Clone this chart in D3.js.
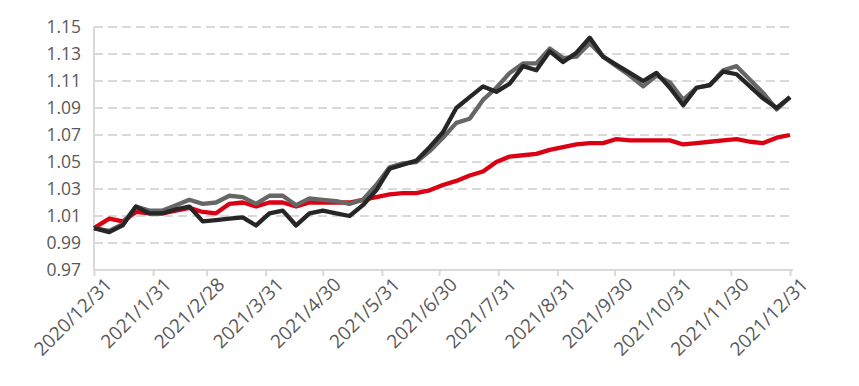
<!DOCTYPE html>
<html>
<head>
<meta charset="utf-8">
<script src="https://cdn.jsdelivr.net/npm/d3@7"></script>
<style>
  html, body { margin: 0; padding: 0; background: #fff; }
  svg { display: block; }
  text { font-family: "Open Sans", "Noto Sans", sans-serif; fill: #595959; }
</style>
</head>
<body>
<svg id="chart" width="859" height="386"></svg>
<script>
const dates = ["2020-12-31","2021-01-08","2021-01-15","2021-01-22","2021-01-29","2021-02-05","2021-02-12","2021-02-19","2021-02-26",
  "2021-03-05","2021-03-12","2021-03-19","2021-03-26","2021-04-02","2021-04-09","2021-04-16","2021-04-23","2021-04-30",
  "2021-05-07","2021-05-14","2021-05-21","2021-05-28","2021-06-04","2021-06-11","2021-06-18","2021-06-25",
  "2021-07-02","2021-07-09","2021-07-16","2021-07-23","2021-07-30","2021-08-06","2021-08-13","2021-08-20","2021-08-27",
  "2021-09-03","2021-09-10","2021-09-17","2021-09-24","2021-10-01","2021-10-08","2021-10-15","2021-10-22","2021-10-29",
  "2021-11-05","2021-11-12","2021-11-19","2021-11-26","2021-12-03","2021-12-10","2021-12-17","2021-12-24","2021-12-31"];

const redValues = [1.001,1.008,1.006,1.013,1.012,1.012,1.014,1.016,1.013,
  1.012,1.019,1.020,1.017,1.020,1.020,1.017,1.020,1.020,
  1.020,1.020,1.022,1.024,1.026,1.027,1.027,1.029,
  1.033,1.036,1.040,1.043,1.050,1.054,1.055,1.056,1.059,
  1.061,1.063,1.064,1.064,1.067,1.066,1.066,1.066,1.066,
  1.063,1.064,1.065,1.066,1.067,1.065,1.064,1.068,1.070];

const grayValues = [1.001,0.999,1.004,1.017,1.014,1.014,1.018,1.022,1.019,
  1.020,1.025,1.024,1.019,1.025,1.025,1.018,1.023,1.022,
  1.021,1.019,1.022,1.033,1.046,1.049,1.050,1.058,
  1.068,1.079,1.082,1.096,1.105,1.116,1.123,1.123,1.134,
  1.127,1.128,1.138,1.128,1.121,1.114,1.106,1.114,1.109,
  1.096,1.105,1.107,1.118,1.121,1.111,1.101,1.089,1.098];

const blackValues = [1.001,0.998,1.003,1.017,1.012,1.012,1.015,1.017,1.006,
  1.007,1.008,1.009,1.003,1.012,1.014,1.003,1.012,1.014,
  1.012,1.010,1.018,1.029,1.045,1.048,1.051,1.061,
  1.072,1.090,1.098,1.106,1.102,1.108,1.121,1.118,1.132,
  1.124,1.131,1.142,1.128,1.122,1.116,1.110,1.116,1.105,
  1.092,1.105,1.107,1.117,1.115,1.106,1.097,1.090,1.098];

const yTicks = [0.97,0.99,1.01,1.03,1.05,1.07,1.09,1.11,1.13,1.15];
const xTickLabels = ["2020/12/31","2021/1/31","2021/2/28","2021/3/31","2021/4/30","2021/5/31","2021/6/30",
  "2021/7/31","2021/8/31","2021/9/30","2021/10/31","2021/11/30","2021/12/31"];

const parse = d3.timeParse("%Y-%m-%d");
const parseLabel = d3.timeParse("%Y/%m/%d");
const X0 = 94, X1 = 790, Y0 = 270, Y1 = 27;

const x = d3.scaleTime().domain([parse(dates[0]), parse(dates[dates.length-1])]).range([X0, X1]);
const y = d3.scaleLinear().domain([0.97, 1.15]).range([Y0, Y1]);

const svg = d3.select("#chart");

// gridlines
svg.append("g").selectAll("line").data(yTicks.slice(1)).join("line")
  .attr("x1", X0).attr("x2", 793)
  .attr("y1", d => y(d)).attr("y2", d => y(d))
  .attr("stroke", "#d9d9d9").attr("stroke-width", 2)
  .attr("stroke-dasharray", "9,5");

// y axis line
svg.append("line").attr("x1", X0).attr("x2", X0).attr("y1", Y1).attr("y2", Y0)
  .attr("stroke", "#d9d9d9").attr("stroke-width", 2);

// y labels
svg.append("g").selectAll("text").data(yTicks).join("text")
  .attr("x", 81).attr("y", d => y(d)).attr("dy", "0.35em")
  .attr("text-anchor", "end").attr("font-size", 17.5)
  .text(d => d.toFixed(2));

// x axis
const xAxis = d3.axisBottom(x)
  .tickValues(xTickLabels.map(parseLabel))
  .tickSize(6).tickSizeOuter(0)
  .tickFormat((d, i) => xTickLabels[i]);
const gx = svg.append("g").attr("transform", `translate(0,${Y0})`).call(xAxis);
gx.select(".domain").attr("stroke", "#d9d9d9").attr("stroke-width", 2)
  .attr("d", `M${X0},0H793`);
gx.selectAll(".tick line").attr("stroke", "#d9d9d9").attr("stroke-width", 2);
gx.selectAll(".tick text")
  .attr("font-size", 19).attr("fill", "#595959")
  .attr("font-family", "'Open Sans', 'Noto Sans', sans-serif")
  .attr("text-anchor", "end")
  .attr("transform", "translate(7,4) rotate(-45)")
  .attr("dy", "0.35em").attr("y", 10).attr("x", 0);

// lines
const series = [
  { values: redValues, color: "#dc0014" },
  { values: grayValues, color: "#666666" },
  { values: blackValues, color: "#262626" }
];
const line = d3.line().x((d, i) => x(parse(dates[i]))).y(d => y(d));
svg.append("g").selectAll("path").data(series).join("path")
  .attr("d", s => line(s.values))
  .attr("fill", "none").attr("stroke", s => s.color)
  .attr("stroke-width", 4.3).attr("stroke-linejoin", "round");
</script>
</body>
</html>
